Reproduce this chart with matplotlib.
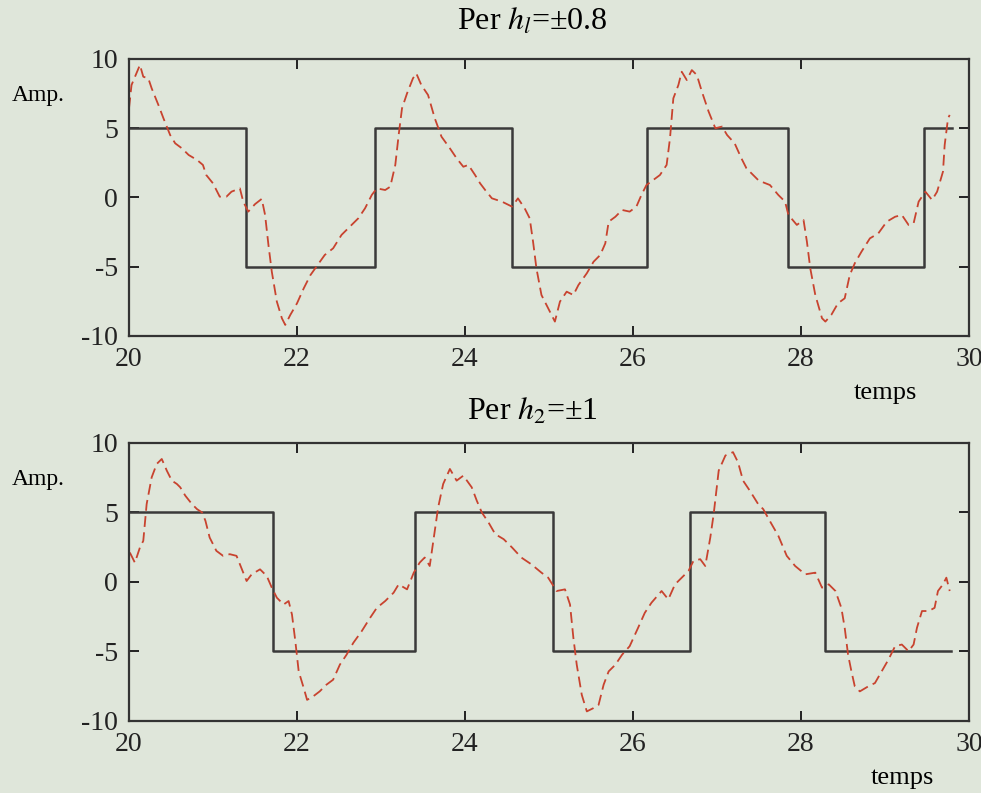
# Réponse du système avec relais à hystérésis (h1 = ±0.8, h2 = ±1)

import numpy as np
import matplotlib.pyplot as plt

plt.rcParams['font.family'] = ['Liberation Serif', 'DejaVu Serif']
plt.rcParams['mathtext.fontset'] = 'stix'
plt.rcParams['axes.unicode_minus'] = False

# signal carré (commande) : instants de commutation et niveaux
sq1_t = [20.0, 21.39, 22.93, 24.56, 26.17, 27.84, 29.46, 29.80]
sq1_v = [5, -5, 5, -5, 5, -5, 5, 5]
sq2_t = [20.0, 21.71, 23.40, 25.05, 26.68, 28.28, 29.79]
sq2_v = [5, -5, 5, -5, 5, -5, -5]

y1_t = [20.00, 20.03, 20.13, 20.17, 20.23, 20.27, 20.35, 20.41, 20.49, 20.55,
        20.63, 20.71, 20.81, 20.88, 20.92, 21.00, 21.08, 21.16, 21.22, 21.32,
        21.36, 21.42, 21.50, 21.58, 21.62, 21.66, 21.70, 21.76, 21.82, 21.86,
        21.92, 22.00, 22.08, 22.16, 22.23, 22.33, 22.43, 22.53, 22.65, 22.73,
        22.81, 22.89, 22.95, 23.05, 23.11, 23.17, 23.21, 23.25, 23.31, 23.38,
        23.42, 23.48, 23.56, 23.64, 23.72, 23.82, 23.90, 23.98, 24.04, 24.12,
        24.18, 24.24, 24.32, 24.44, 24.56, 24.63, 24.71, 24.77, 24.81, 24.85,
        24.91, 24.99, 25.07, 25.13, 25.21, 25.29, 25.35, 25.45, 25.53, 25.61,
        25.67, 25.71, 25.79, 25.87, 25.96, 26.04, 26.10, 26.16, 26.24, 26.32,
        26.40, 26.44, 26.48, 26.54, 26.58, 26.64, 26.70, 26.76, 26.82, 26.90,
        26.98, 27.06, 27.12, 27.21, 27.29, 27.35, 27.43, 27.49, 27.53, 27.63,
        27.73, 27.81, 27.85, 27.95, 28.03, 28.07, 28.11, 28.17, 28.25, 28.29,
        28.36, 28.44, 28.52, 28.58, 28.64, 28.72, 28.82, 28.92, 29.02, 29.12,
        29.20, 29.28, 29.34, 29.40, 29.48, 29.56, 29.62, 29.69, 29.71, 29.75,
        29.77]
y1_v = [6.44, 8.12, 9.57, 8.72, 8.60, 7.88, 6.68, 5.72, 4.51, 3.91,
        3.55, 3.07, 2.71, 2.35, 1.62, 1.02, 0.06, 0.06, 0.42, 0.66,
        -0.30, -1.02, -0.48, -0.10, -1.26, -3.43, -5.36, -7.52, -8.72, -9.20,
        -8.48, -7.64, -6.56, -5.60, -5.00, -4.15, -3.67, -2.70, -1.98, -1.50,
        -0.78, 0.18, 0.66, 0.54, 0.78, 2.35, 4.51, 6.44, 7.52, 8.60,
        8.96, 8.12, 7.40, 5.72, 4.39, 3.55, 2.83, 2.22, 2.35, 1.62,
        1.02, 0.54, -0.06, -0.30, -0.66, -0.06, -0.78, -1.50, -3.19, -5.11,
        -7.04, -8.00, -8.96, -7.52, -6.80, -7.04, -6.32, -5.47, -4.64, -4.15,
        -3.31, -1.75, -1.39, -0.90, -1.02, -0.66, 0.18, 0.90, 1.26, 1.62,
        2.35, 4.27, 7.16, 8.12, 9.08, 8.48, 9.20, 8.84, 7.64, 6.20,
        5.00, 5.12, 4.51, 3.91, 2.83, 2.11, 1.62, 1.26, 1.14, 0.90,
        0.18, -0.30, -1.26, -1.98, -1.63, -3.19, -5.11, -7.04, -8.72, -8.96,
        -8.48, -7.64, -7.28, -5.60, -4.75, -3.91, -2.95, -2.59, -1.75, -1.39,
        -1.26, -1.98, -1.87, -0.30, 0.42, -0.18, 0.42, 1.87, 3.79, 5.72,
        5.96]

y2_t = [20.01, 20.07, 20.13, 20.17, 20.21, 20.27, 20.33, 20.39, 20.45, 20.51,
        20.57, 20.61, 20.67, 20.75, 20.81, 20.87, 20.91, 20.96, 21.04, 21.12,
        21.20, 21.28, 21.32, 21.40, 21.46, 21.56, 21.64, 21.70, 21.76, 21.84,
        21.90, 21.94, 21.98, 22.02, 22.08, 22.12, 22.19, 22.27, 22.35, 22.43,
        22.51, 22.59, 22.67, 22.77, 22.87, 22.95, 23.05, 23.15, 23.21, 23.31,
        23.39, 23.46, 23.52, 23.58, 23.64, 23.68, 23.74, 23.82, 23.90, 23.98,
        24.08, 24.14, 24.20, 24.28, 24.36, 24.46, 24.56, 24.67, 24.79, 24.91,
        24.99, 25.09, 25.19, 25.25, 25.29, 25.33, 25.39, 25.45, 25.53, 25.59,
        25.65, 25.71, 25.79, 25.87, 25.96, 26.06, 26.14, 26.22, 26.34, 26.42,
        26.50, 26.58, 26.66, 26.72, 26.80, 26.86, 26.92, 26.96, 27.02, 27.10,
        27.19, 27.25, 27.31, 27.39, 27.49, 27.55, 27.65, 27.73, 27.83, 27.93,
        28.05, 28.17, 28.25, 28.33, 28.41, 28.48, 28.52, 28.56, 28.60, 28.64,
        28.70, 28.80, 28.88, 28.96, 29.04, 29.12, 29.20, 29.28, 29.34, 29.38,
        29.44, 29.52, 29.59, 29.63, 29.69, 29.73, 29.77]
y2_v = [2.12, 1.39, 2.48, 2.96, 5.60, 7.53, 8.49, 8.85, 8.01, 7.29,
        7.05, 6.81, 6.21, 5.60, 5.24, 5.00, 4.40, 3.20, 2.24, 1.88,
        2.00, 1.88, 1.27, 0.07, 0.55, 0.91, 0.43, -0.41, -1.13, -1.62,
        -1.37, -2.34, -4.26, -6.43, -7.63, -8.48, -8.24, -7.87, -7.39, -7.03,
        -5.95, -5.23, -4.38, -3.54, -2.58, -1.86, -1.37, -0.77, -0.17, -0.53,
        0.67, 1.39, 1.76, 1.15, 3.68, 5.36, 7.05, 8.13, 7.29, 7.65,
        6.81, 5.85, 5.00, 4.28, 3.44, 3.08, 2.48, 1.76, 1.27, 0.67,
        0.31, -0.65, -0.53, -1.62, -4.02, -5.95, -8.12, -9.31, -9.07, -8.84,
        -7.39, -6.43, -5.95, -5.23, -4.62, -3.30, -2.22, -1.49, -0.65, -1.25,
        -0.17, 0.31, 0.79, 1.52, 1.64, 1.15, 3.20, 4.88, 8.01, 9.10,
        9.34, 8.61, 7.29, 6.57, 5.60, 5.24, 4.16, 3.32, 1.88, 1.15,
        0.55, 0.67, -0.41, -0.17, -0.65, -1.86, -3.30, -5.23, -6.43, -7.51,
        -7.87, -7.51, -7.27, -6.43, -5.59, -4.62, -4.50, -4.98, -4.50, -3.30,
        -2.09, -2.09, -1.86, -0.65, -0.17, 0.31, -0.65]

titles = [r'Per $h_{\mathit{l}}$=±0.8', r'Per $h_2$=±1']
title_pads = [21, 17]
temps_x = [0.901, 0.921]

bg = '#dfe6da'
fig = plt.figure(figsize=(9.81, 7.93), dpi=100, facecolor=bg)
ax1 = fig.add_axes([0.1315, 0.5763, 0.8563, 0.3493])
ax2 = fig.add_axes([0.1315, 0.0908, 0.8563, 0.3506])

data = [(sq1_t, sq1_v, y1_t, y1_v), (sq2_t, sq2_v, y2_t, y2_v)]
for i, (ax, (st, sv, yt, yv)) in enumerate(zip([ax1, ax2], data)):
    ax.set_facecolor(bg)
    ax.step(st, sv, where='post', color='#3a3a3a', lw=1.8)
    ax.plot(yt, yv, color='#c8432f', lw=1.3, dashes=(6, 3))
    ax.set_xlim(20, 30)
    ax.set_ylim(-10, 10)
    ax.set_xticks([20, 22, 24, 26, 28, 30])
    ax.set_yticks([-10, -5, 0, 5, 10])
    ax.tick_params(direction='in', length=7, width=1.4, labelsize=20,
                   top=True, right=True, pad=8, colors='#222222')
    for s in ax.spines.values():
        s.set_linewidth(1.6)
        s.set_color('#333333')
    ax.set_title(titles[i], fontsize=23, pad=title_pads[i], x=0.48)
    ax.text(-0.108, 0.87, 'Amp.', transform=ax.transAxes, fontsize=17,
            ha='center', va='center')
    ax.text(temps_x[i], -0.205, 'temps', transform=ax.transAxes, fontsize=19,
            ha='center', va='center')

plt.savefig('out.png', dpi=100, facecolor=bg)
